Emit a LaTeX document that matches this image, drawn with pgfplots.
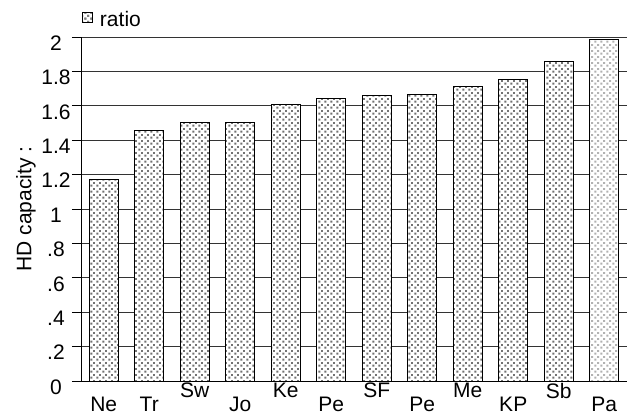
\documentclass[border=0pt]{standalone}
\usepackage{fontspec}
\setmainfont{Liberation Sans}
\usepackage{pgfplots}
\pgfplotsset{compat=1.18}
\usetikzlibrary{patterns}
\pgfdeclarepatternformonly{mydots}{\pgfpointorigin}{\pgfpoint{5.6bp}{5.6bp}}{\pgfpoint{5.6bp}{5.6bp}}{
  \pgfpathrectangle{\pgfpoint{0.5bp}{0.5bp}}{\pgfpoint{2bp}{2bp}}
  \pgfpathrectangle{\pgfpoint{3.3bp}{3.3bp}}{\pgfpoint{2bp}{2bp}}
  \pgfusepath{fill}
}
\newcommand{\lo}[1]{\raisebox{-14bp}[\height]{#1}}
\begin{document}
\begin{tikzpicture}
\begin{axis}[
  scale only axis, width=546bp, height=344bp,
  xmin=-0.5, xmax=11.5, ymin=0, ymax=2,
  axis lines*=left,
  axis line style={black, line width=0.9bp},
  ytick={0,0.2,0.4,0.6,0.8,1,1.2,1.4,1.6,1.8,2},
  yticklabels={0,.2,.4,.6,.8,1,1.2,1.4,1.6,1.8,2},
  xtick={0,1,2,3,4,5,6,7,8,9,10,11},
  xticklabels={\lo{Ne},\lo{Tr},Sw,\lo{Jo},Ke,\lo{Pe},SF,\lo{Pe},Me,\lo{KP},Sb,\lo{Pa}},
  x tick style={draw=none},
  y tick style={black, line width=0.9bp},
  tick align=outside, major tick length=9bp,
  ymajorgrids, grid style={black!80, line width=0.8bp},
  tick label style={font=\fontsize{21bp}{24bp}\selectfont},
  /pgf/number format/assume math mode=true,
  yticklabel style={inner sep=0pt, anchor=center, xshift=-16bp, yshift=-6bp},
  xticklabel style={inner sep=0pt, yshift=7bp},
  ylabel={HD capacity :},
  every axis y label/.style={at={(axis description cs:0,0.5)}, xshift=-55bp, rotate=90, anchor=center, font=\fontsize{21bp}{24bp}\selectfont},
  ybar, bar width=29bp, bar shift=0pt,
  legend style={at={(axis description cs:0,1)}, anchor=south west, draw=none, fill=none, inner sep=0pt, xshift=1bp, yshift=9bp, font=\fontsize{21bp}{24bp}\selectfont, nodes={inner sep=0pt}},
  legend image code/.code={\draw[black, line width=0.8bp, fill=white, postaction={pattern=mydots, pattern color=gray}] (0bp,-3bp) rectangle (10bp,7bp);},
  legend cell align=left,
]
\addplot[draw=black, line width=1bp, fill=white, postaction={pattern=mydots, pattern color=gray!90!black}] coordinates {
 (0,1.174) (1,1.459) (2,1.50) (3,1.50) (4,1.61) (5,1.645) (6,1.657) (7,1.668) (8,1.715) (9,1.75) (10,1.855)
};
\addlegendentry{\hspace{7bp}ratio}
\addplot[draw=black, line width=1bp, fill=white, postaction={pattern=mydots, pattern color=gray!60}, forget plot] coordinates {
 (11,1.988)
};
\end{axis}
\pgfresetboundingbox
\path (-81bp,-37bp) rectangle (546bp,381bp);
\end{tikzpicture}
\end{document}
